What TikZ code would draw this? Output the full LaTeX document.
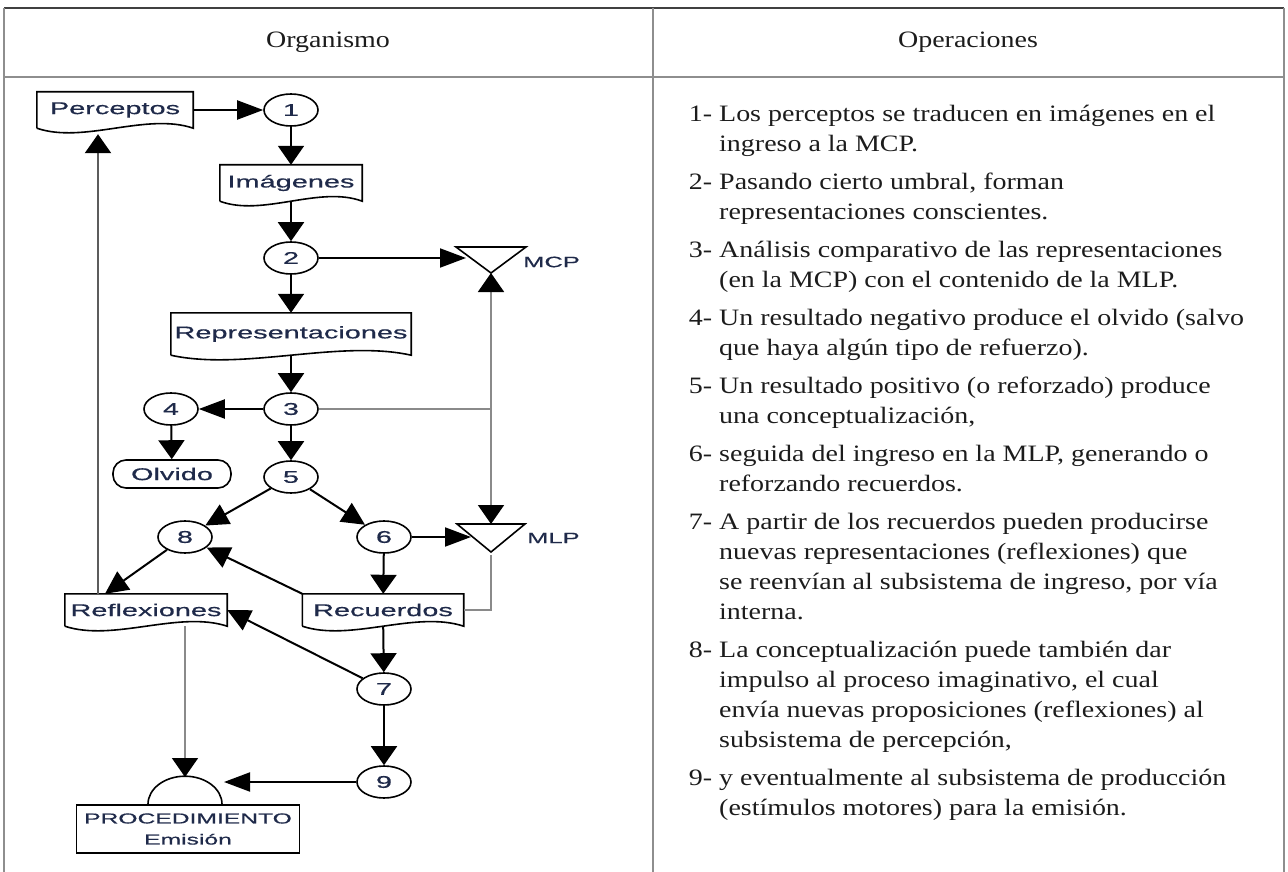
\documentclass[tikz,border=0pt]{standalone}
\usepackage{fontspec}
\setmainfont{Liberation Serif}[FakeStretch=1.19]
\newfontfamily\diagfont{Liberation Sans}[FakeStretch=1.7, FakeBold=0.6]
\usepackage{xcolor}
\usepackage{tikz}
\usetikzlibrary{positioning, arrows.meta, calc, shapes.geometric}
\definecolor{labelink}{HTML}{1F2A4A}
\definecolor{bodyink}{HTML}{1C1C1C}
\definecolor{framedark}{HTML}{404040}
\definecolor{rulegray}{HTML}{8E8E8E}
\definecolor{linegray}{HTML}{8A8A8A}
\definecolor{feedgray}{HTML}{5C5C5C}

\tikzset{
    tableline/.style={draw=rulegray, line width=1.6pt},
    headcell/.style={text=bodyink, font=\fontsize{23.5}{30}\selectfont},
    opslist/.style={text=bodyink, align=left, inner sep=0pt, font=\fontsize{23.5}{30}\selectfont},
    docbox/.style={minimum width=#1, minimum height=34pt, inner sep=0pt, text=labelink,
        font=\diagfont\fontsize{17}{20}\selectfont,
        append after command={\pgfextra{
            \draw[line width=1.6pt] (\tikzlastnode.south west) -- (\tikzlastnode.north west)
                -- (\tikzlastnode.north east) -- (\tikzlastnode.south east)
                .. controls ($(\tikzlastnode.south east)!0.3!(\tikzlastnode.south west)+(0,-16)$)
                and ($(\tikzlastnode.south east)!0.7!(\tikzlastnode.south west)+(0,16)$)
                .. (\tikzlastnode.south west);}}},
    numcirc/.style={ellipse, draw, line width=1.6pt, minimum width=54pt, minimum height=32pt,
        inner sep=0pt, text=labelink, font=\diagfont\fontsize{17}{20}\selectfont},
    tagtext/.style={anchor=west, inner sep=0pt, text=labelink, font=\diagfont\fontsize{15}{18}\selectfont},
    hflow/.style={line width=2pt, -{Triangle[length=26pt, width=19pt]}},
    vflow/.style={line width=2pt, -{Triangle[length=19pt, width=26pt]}},
    dflow/.style={line width=2pt, -{Triangle[length=23pt, width=22pt]}},
    grayline/.style={draw=linegray, line width=1.8pt},
    grayflow/.style={draw=linegray, line width=1.8pt, -{Triangle[length=19pt, width=26pt, color=black]}},
    feedflow/.style={draw=feedgray, line width=2.4pt, -{Triangle[length=19pt, width=26pt, color=black]}}
}

\begin{document}
\begin{tikzpicture}[x=1pt, y=-1pt]
    \useasboundingbox (0,0) rectangle (1288,872);

    \draw[draw=framedark, line width=2pt] (4,8) -- (1284,8);
    \draw[tableline] (4,8) -- (4,872);
    \draw[tableline] (1284,8) -- (1284,872);
    \draw[tableline] (653,8) -- (653,872);
    \draw[tableline, line width=2.6pt] (4,77) -- (1284,77);

    \node[headcell] (orghead) at (328,42) {Organismo};
    \node[headcell] (ophead) at (968,42) {Operaciones};

    \node[docbox=156pt, minimum height=36pt] (percep) at (115,110) {Perceptos};
    \node[numcirc] (c1) at (291,110) {1};
    \node[docbox=142pt, minimum height=36pt] (imag) at (291,183) {Imágenes};
    \node[numcirc] (c2) at (291,258) {2};
    \node[docbox=240pt, minimum height=42pt] (rep) at (291,334) {Representaciones};
    \node[numcirc] (c3) at (291,409) {3};
    \node[numcirc] (c4) at (171,409) {4};
    \node[draw, rounded corners=13pt, line width=1.6pt, minimum width=118pt, minimum height=28pt,
          inner sep=0pt, text=labelink, font=\diagfont\fontsize{17}{20}\selectfont] (olvido) at (172,474) {Olvido};
    \node[numcirc] (c5) at (291,477) {5};
    \node[numcirc] (c8) at (185,537) {8};
    \node[numcirc] (c6) at (384,537) {6};
    \node[docbox=162pt, minimum height=32pt] (refl) at (146,610) {Reflexiones};
    \node[docbox=161pt, minimum height=32pt] (rec) at (383,610) {Recuerdos};
    \node[numcirc] (c7) at (384,689) {7};
    \node[numcirc] (c9) at (384,782) {9};
    \node[draw, line width=1.6pt, minimum width=223pt, minimum height=48pt, inner sep=0pt, align=center,
          text=labelink, font=\diagfont\fontsize{14.5}{21}\selectfont] (proc) at (188,829) {PROCEDIMIENTO\\Emisión};
    \draw[line width=1.6pt] ([xshift=-40pt]proc.north) arc[start angle=180, end angle=0, x radius=37pt, y radius=28pt];

    \coordinate (mcp) at (491,273);
    \coordinate (mlp) at (491,524);
    \draw[line width=1.6pt] (mcp) -- ++(-35,-26) -- ++(70,0) -- cycle;
    \draw[line width=1.6pt] (mlp) -- ++(-34,0) -- ++(34,28) -- ++(34,-28) -- cycle;
    \node[tagtext] (mcptag) at (523,262) {MCP};
    \node[tagtext] (mlptag) at (527,538) {MLP};
    \coordinate (mcpin) at (466,258);
    \coordinate (mlpin) at (471,537);
    \coordinate (junc) at (491,409);
    \coordinate (proctop) at (185,777);
    \coordinate (procin) at (224,782);

    \draw[hflow] (percep) -- (c1);
    \draw[vflow] (c1) -- (imag);
    \draw[vflow] (imag) -- (c2);
    \draw[hflow] (c2) -- (mcpin);
    \draw[vflow] (c2) -- (rep);
    \draw[vflow] (rep) -- (c3);
    \draw[hflow] (c3) -- (c4);
    \draw[vflow] (c4) -- (olvido);
    \draw[vflow] (c3) -- (c5);
    \draw[dflow] (c5) -- (c8);
    \draw[dflow] (c5) -- (c6);
    \draw[hflow] (c6) -- (mlpin);
    \draw[vflow] (c6) -- (rec);
    \draw[dflow] (rec.north west) -- (c8);
    \draw[dflow] (c8) -- ([xshift=-41pt]refl.north);
    \draw[vflow] (rec) -- (c7);
    \draw[dflow] (c7) -- (refl.east);
    \draw[vflow] (c7) -- (c9);
    \draw[hflow] (c9) -- (procin);

    \draw[grayline] (c3) -- (junc);
    \draw[grayflow] (junc) -- (mcp);
    \draw[grayflow] (junc) -- (mlp);
    \draw[grayline] ([yshift=-31pt]mlp) |- (rec.east);
    \draw[feedflow] ([xshift=-48pt]refl.north) -- ([xshift=-17pt, yshift=-6pt]percep.south);
    \draw[grayflow] (refl.south -| proctop) -- (proctop);

    \node[opslist, anchor=north west] (ops) at (719,100) {%
        \strut\llap{1-\ }Los perceptos se traducen en imágenes en el\\
        ingreso a la MCP.\\[8pt]
        \llap{2-\ }Pasando cierto umbral, forman\\
        representaciones conscientes.\\[8pt]
        \llap{3-\ }Análisis comparativo de las representaciones\\
        (en la MCP) con el contenido de la MLP.\\[8pt]
        \llap{4-\ }Un resultado negativo produce el olvido (salvo\\
        que haya algún tipo de refuerzo).\\[8pt]
        \llap{5-\ }Un resultado positivo (o reforzado) produce\\
        una conceptualización,\\[8pt]
        \llap{6-\ }seguida del ingreso en la MLP, generando o\\
        reforzando recuerdos.\\[8pt]
        \llap{7-\ }A partir de los recuerdos pueden producirse\\
        nuevas representaciones (reflexiones) que\\
        se reenvían al subsistema de ingreso, por vía\\
        interna.\\[8pt]
        \llap{8-\ }La conceptualización puede también dar\\
        impulso al proceso imaginativo, el cual\\
        envía nuevas proposiciones (reflexiones) al\\
        subsistema de percepción,\\[8pt]
        \llap{9-\ }y eventualmente al subsistema de producción\\
        (estímulos motores) para la emisión.};
\end{tikzpicture}
\end{document}
